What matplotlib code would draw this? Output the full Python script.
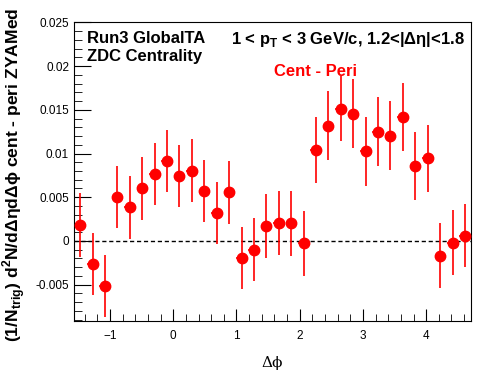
import numpy as np
import matplotlib
matplotlib.use("Agg")
import matplotlib.pyplot as plt
from matplotlib.ticker import MultipleLocator

plt.rcParams['font.family'] = ['Liberation Sans', 'DejaVu Sans']
plt.rcParams['mathtext.fontset'] = 'custom'
plt.rcParams['mathtext.rm'] = 'Liberation Sans'
plt.rcParams['mathtext.bf'] = 'Liberation Sans:bold'

# 32 bins in delta phi from -pi/2 to 3pi/2
nbins = 32
dphi_lo = -np.pi / 2
dphi_hi = 3 * np.pi / 2
bin_w = (dphi_hi - dphi_lo) / nbins
dphi = dphi_lo + bin_w * (np.arange(nbins) + 0.5)

yield_diff = [0.00182, -0.00265, -0.00512, 0.00500, 0.00383, 0.00600, 0.00762, 0.00917,
              0.00747, 0.00804, 0.00569, 0.00315, 0.00557, -0.00193, -0.00102, 0.00167,
              0.00201, 0.00201, -0.00027, 0.01044, 0.01320, 0.01512, 0.01455, 0.01027,
              0.01251, 0.01205, 0.01421, 0.00853, 0.00944, -0.00171, -0.00023, 0.00061]
yield_err = [0.00362, 0.00360, 0.00356, 0.00356, 0.00356, 0.00356, 0.00356, 0.00356,
             0.00356, 0.00358, 0.00356, 0.00356, 0.00362, 0.00356, 0.00362, 0.00368,
             0.00368, 0.00373, 0.00373, 0.00379, 0.00390, 0.00373, 0.00394, 0.00396,
             0.00396, 0.00396, 0.00390, 0.00390, 0.00379, 0.00373, 0.00373, 0.00364]

fig = plt.figure(figsize=(4.96, 3.74), dpi=100)
ax = fig.add_axes([0.149, 0.141, 0.801, 0.799])

ax.axhline(0, color='black', ls=(0, (3, 2)), lw=1.0, zorder=1)
ax.errorbar(dphi, yield_diff, yerr=yield_err, xerr=bin_w / 2 * 0.9, fmt='o',
            color='red', ms=7.5, elinewidth=1.2, capsize=0, zorder=3)

ax.set_xlim(dphi_lo, dphi_hi)
ax.set_ylim(-0.0092, 0.025)
ax.xaxis.set_major_locator(MultipleLocator(1))
ax.xaxis.set_minor_locator(MultipleLocator(0.2))
ax.yaxis.set_major_locator(MultipleLocator(0.005))
ax.yaxis.set_minor_locator(MultipleLocator(0.001))
ax.yaxis.set_major_formatter(matplotlib.ticker.FuncFormatter(
    lambda v, p: '0' if abs(v) < 1e-9 else ('%g' % v)))
ax.tick_params(which='both', direction='in', top=False, right=False, labelsize=8.5)
ax.tick_params(axis='y', which='major', length=12)
ax.tick_params(axis='y', which='minor', length=6)
ax.tick_params(axis='x', which='major', length=9, pad=6)
ax.tick_params(axis='x', which='minor', length=5)

ax.set_xlabel('\u0394\u03d5', fontsize=11, family='DejaVu Serif')
ax.xaxis.set_label_coords(0.5, -0.115)
ax.set_ylabel(r'(1/N$_{\mathbf{trig}}$) d$^{\mathbf{2}}$N/d' + '\u0394\u03b7d\u0394\u03d5 cent - peri ZYAMed',
              fontsize=12.6, fontweight='bold')
ax.yaxis.set_label_coords(-0.116, 0.49)

ax.text(0.032, 0.932, 'Run3 GlobalTA', transform=ax.transAxes, fontsize=12,
        fontweight='bold', va='baseline')
ax.text(0.032, 0.872, 'ZDC Centrality', transform=ax.transAxes, fontsize=12,
        fontweight='bold', va='baseline')
ax.text(0.395, 0.928, r'1 < p$_{\mathbf{T}}$ < 3 GeV/c, 1.2<|' + '\u0394\u03b7|<1.8',
        transform=ax.transAxes, fontsize=12, fontweight='bold', va='baseline')
ax.text(0.503, 0.82, 'Cent - Peri', transform=ax.transAxes, fontsize=12,
        fontweight='bold', color='red', va='baseline')

fig.savefig('out.png', dpi=100)
